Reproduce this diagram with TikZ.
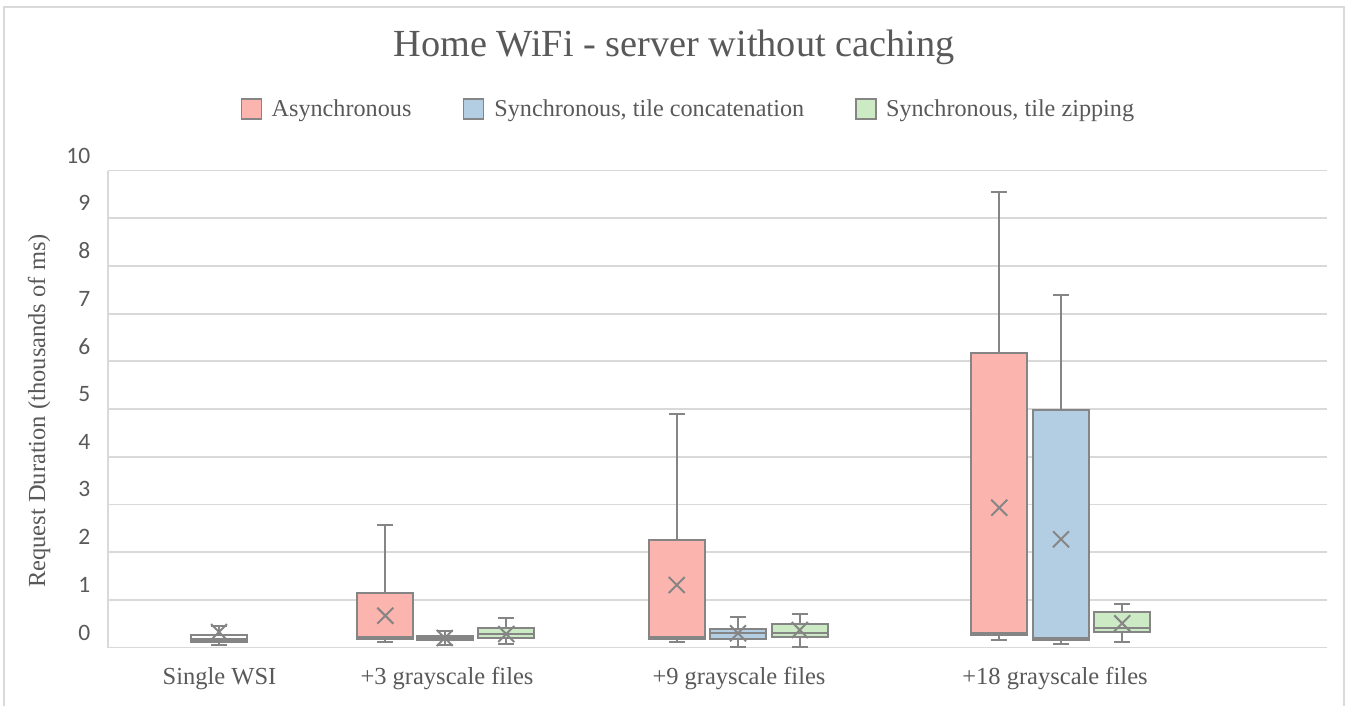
\documentclass[tikz,border=0pt]{standalone}
\usepackage{fontspec}
\setmainfont{Liberation Serif}
\newfontfamily\tickfont{Carlito}
\usetikzlibrary{positioning}
\definecolor{txtgray}{HTML}{595959}
\definecolor{gridgray}{HTML}{D9D9D9}
\definecolor{boxgray}{HTML}{858585}
\definecolor{pred}{HTML}{FBB4AE}
\definecolor{pblue}{HTML}{B3CDE3}
\definecolor{pgreen}{HTML}{CCEBC5}
\newcommand\bxp[8]{%
  \draw[whisk] (#1,#3) -- (#1,#2) (#1-8,#2) -- (#1+8,#2);
  \draw[whisk] (#1,#5) -- (#1,#6) (#1-8,#6) -- (#1+8,#6);
  \draw[boxst, fill=#8] (#1-28,#3) rectangle (#1+28,#5);
  \draw[whisk] (#1-28,#4) -- (#1+28,#4);
  \draw[whisk] (#1-8,#7-8) -- (#1+8,#7+8) (#1-8,#7+8) -- (#1+8,#7-8);
}
\begin{document}
\begin{tikzpicture}[x=1pt,y=-1pt,
  gridline/.style={draw=gridgray, line width=1.8pt},
  whisk/.style={draw=boxgray, line width=2pt},
  boxst/.style={draw=boxgray, line width=2.2pt},
  ticklab/.style={anchor=east, inner sep=0pt, text=txtgray, font=\tickfont\fontsize{23.5}{26}\selectfont},
  catlab/.style={inner sep=0pt, text=txtgray, font=\fontsize{24.5}{28}\selectfont},
  legsq/.style={draw=boxgray, line width=1.5pt, minimum size=20pt, inner sep=0pt},
  legtx/.style={inner sep=0pt, anchor=west, text=txtgray, font=\fontsize{24.2}{28}\selectfont}]
\useasboundingbox (0,0) rectangle (1349,706);
\clip (0,0) rectangle (1349,706);
\fill[white] (0,0) rectangle (1349,706);
% outer frame
\draw[draw=gridgray, line width=1.5pt] (4,7) rectangle (1344,720);
% title
\node[inner sep=0pt, text=txtgray, font=\fontsize{38.3}{44}\selectfont] (title) at (674,47.5) {Home WiFi - server without caching};
% legend
\node[legsq, fill=pred] (l1) at (251.7,109) {};
\node[legtx, right=9pt of l1, yshift=-2pt] (t1) {Asynchronous};
\node[legsq, fill=pblue, right=51pt of t1, yshift=2pt] (l2) {};
\node[legtx, right=10pt of l2, yshift=-2pt] (t2) {Synchronous, tile concatenation};
\node[legsq, fill=pgreen, right=51pt of t2, yshift=2pt] (l3) {};
\node[legtx, right=9pt of l3, yshift=-2pt] (t3) {Synchronous, tile zipping};
% grid
\foreach \i in {0,...,10} {
  \draw[gridline] (108,647.5-47.7*\i) -- (1327,647.5-47.7*\i);
  \node[ticklab] (tick\i) at (90.5,632.5-47.7*\i) {\i};
}
\draw[gridline] (108,170.5) -- (108,647.5);
% axis title
\node[rotate=90, inner sep=0pt, text=txtgray, font=\fontsize{24.5}{28}\selectfont] (ytitle) at (39,411) {Request Duration (thousands of ms)};
% category labels
\node[catlab] (c1) at (219.5,679) {Single WSI};
\node[catlab] (c2) at (447,679) {+3 grayscale files};
\node[catlab] (c3) at (739,679) {+9 grayscale files};
\node[catlab] (c4) at (1055,679) {+18 grayscale files};
% boxes: cx, whisker top, q3, median, q1, whisker bottom, mean, fill
\bxp{219}{626}{635}{638.5}{641.5}{644.5}{632}{white}
\bxp{385.3}{525}{593.3}{637}{639.3}{642}{615.7}{pred}
\bxp{444.7}{631}{635.7}{638}{640}{645}{638}{pblue}
\bxp{506.3}{618.3}{627.7}{634.3}{637.7}{644.3}{634}{pgreen}
\bxp{676.7}{414.3}{540}{637}{638.7}{642}{585}{pred}
\bxp{738}{616.7}{629.3}{633.3}{638.7}{646.7}{633.3}{pblue}
\bxp{799.8}{614.3}{623.7}{633.3}{636.7}{646.7}{630}{pgreen}
\bxp{999.2}{191.7}{352.7}{632.7}{635}{640}{507.7}{pred}
\bxp{1061}{294.7}{410}{638}{640}{644}{539.3}{pblue}
\bxp{1122.2}{604.3}{612.3}{627.7}{632.3}{642.3}{623.3}{pgreen}
\end{tikzpicture}
\end{document}
